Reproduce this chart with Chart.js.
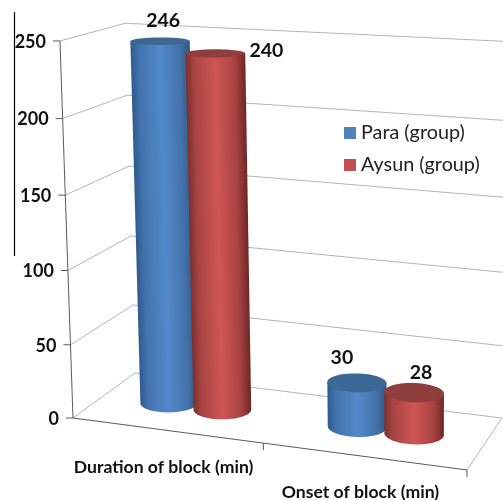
<!DOCTYPE html>
<html>
<head>
  <title>Block duration and onset</title>
  <script src="https://cdn.jsdelivr.net/npm/chart.js"></script>
  <style>
    body { margin: 0; background: #fff; }
    canvas { display: block; }
  </style>
</head>
<body>
  <canvas id="blockChart" width="503" height="500"></canvas>

  <script>
    const categories = ['Duration of block (min)', 'Onset of block (min)'];
    const paraValues = [246, 30];
    const aysunValues = [240, 28];
    const seriesNames = ['Para (group)', 'Aysun (group)'];

    // label nudges from the top of each cylinder, picture is not regular here
    const paraLabelNudge = [[3, -20], [-15, -25]];
    const aysunLabelNudge = [[51, -3], [7, -20]];

    const FONT = 'Lato, "Open Sans", sans-serif';

    // the flat chart area gets projected onto the 3D box
    // s = along the categories, d = depth, t = height (all 0..1)
    function project(s, d, t) {
      const X = 73 + 363.4 * s + 72.8 * d - 15.2 * t;
      const Y = 418 + 21.2 * s - 15.2 * d - (378.5 + 5 * s * t * t) * t;
      const w = 1 - 0.0655 * s + 0.0798 * d - 0.036 * t;
      return [X / w, Y / w];
    }

    function line(ctx, a, b, color, width) {
      ctx.strokeStyle = color;
      ctx.lineWidth = width;
      ctx.beginPath();
      ctx.moveTo(a[0], a[1]);
      ctx.lineTo(b[0], b[1]);
      ctx.stroke();
    }

    function drawBox(chart) {
      const ctx = chart.ctx;
      const y = chart.scales.y;
      const area = chart.chartArea;
      const wall = '#b4b4b4';
      const axis = '#5a5a5a';

      y.ticks.forEach(tick => {
        const t = (area.bottom - y.getPixelForValue(tick.value)) / area.height;
        line(ctx, project(0, 0, t), project(0, 1, t), wall, 1);
        line(ctx, project(0, 1, t), project(1, 1, t), wall, 1);
      });
      line(ctx, project(1, 1, 0), project(1, 0, 0), wall, 1);

      line(ctx, project(0, 0, 0), project(0, 0, 1), axis, 1);
      line(ctx, project(0, 0, 0), project(1, 0, 0), axis, 1);

      ctx.fillStyle = '#111';
      ctx.font = 'bold 18px ' + FONT;
      ctx.textAlign = 'right';
      ctx.textBaseline = 'middle';
      y.ticks.forEach(tick => {
        const t = (area.bottom - y.getPixelForValue(tick.value)) / area.height;
        const p = project(0, 0, t);
        line(ctx, [p[0] - 7, p[1]], p, axis, 1);
        ctx.fillText(tick.label, p[0] - 14, p[1] + 1);
      });

      // tick marks under the front edge
      [0.5, 1].forEach(s => {
        const p = project(s, 0, 0);
        line(ctx, p, [p[0], p[1] + 7], axis, 1);
      });

      const x = chart.scales.x;
      ctx.font = 'bold 17.6px ' + FONT;
      ctx.textAlign = 'center';
      categories.forEach((name, i) => {
        const s = (x.getPixelForValue(i) - area.left) / area.width;
        const p = project(s, 0, 0);
        ctx.fillText(name, p[0] - 3, p[1] + 36.5);
      });
    }

    function drawCylinder(chart, bar, colors) {
      const ctx = chart.ctx;
      const area = chart.chartArea;
      const s = (bar.x - area.left) / area.width;
      const rs = bar.width / 2 / area.width;
      const rd = rs * 2.65;
      const t = (bar.base - bar.y) / area.height;
      const rim = (a, h) => project(s + rs * Math.cos(a), 0.5 - rd * Math.sin(a), h);

      // find where the outline leaves each ellipse
      const extreme = h => {
        let left = 0, right = 0;
        for (let a = -1.2; a < Math.PI + 1.2; a += 0.01) {
          if (rim(a, h)[0] > rim(right, h)[0]) right = a;
          if (rim(a, h)[0] < rim(left, h)[0]) left = a;
        }
        return { left: left, right: right };
      };
      const eb = extreme(0);
      const et = extreme(t);
      const tl = rim(et.left, t), tr = rim(et.right, t);
      const bl = rim(eb.left, 0), br = rim(eb.right, 0);

      ctx.save();
      ctx.beginPath();
      for (let i = 0; i <= 50; i++) {
        const q = rim(eb.right + (eb.left - eb.right) * i / 50, 0);
        if (i === 0) ctx.moveTo(q[0], q[1]);
        else ctx.lineTo(q[0], q[1]);
      }
      ctx.lineTo(tl[0], tl[1]);
      ctx.lineTo(tr[0], tr[1]);
      ctx.closePath();
      ctx.clip();

      // one gradient per pixel row, the outline narrows towards the floor
      const yFrom = Math.floor(Math.min(tl[1], tr[1])) - 1;
      const yTo = Math.ceil(rim(Math.PI / 2, 0)[1]) + 2;
      for (let row = yFrom; row < yTo; row++) {
        const f = (row + 0.5 - tl[1]) / (bl[1] - tl[1]);
        const xl = tl[0] + (bl[0] - tl[0]) * f;
        const xr = tr[0] + (br[0] - tr[0]) * f;
        const g = ctx.createLinearGradient(xl, 0, xr, 0);
        colors.wall.forEach((c, i) => g.addColorStop(colors.stops[i], c));
        ctx.fillStyle = g;
        ctx.fillRect(xl - 3, row, xr - xl + 6, 1);
      }
      ctx.restore();

      ctx.fillStyle = colors.top;
      ctx.beginPath();
      for (let i = 0; i <= 60; i++) {
        const q = rim(Math.PI * 2 * i / 60, t);
        if (i === 0) ctx.moveTo(q[0], q[1]);
        else ctx.lineTo(q[0], q[1]);
      }
      ctx.closePath();
      ctx.fill();
      return project(s, 0.5, t);
    }

    const box3d = {
      id: 'box3d',
      // the flat bars stay in the chart for their geometry, the cylinders replace them
      beforeDatasetsDraw(chart) {
        drawBox(chart);
      },
      beforeDatasetDraw() {
        return false;
      },
      afterDatasetsDraw(chart) {
        const ctx = chart.ctx;
        const stops = [0, 0.14, 0.5, 0.82, 1];
        const styles = [
          { stops: stops, wall: ['#2f5a8e', '#4273ad', '#5289cb', '#4473ab', '#2f5684'], top: '#3c6896' },
          { stops: stops, wall: ['#7c2f2f', '#a84442', '#cf5654', '#a84341', '#6f2626'], top: '#8e3e3c' }
        ];
        const nudges = [paraLabelNudge, aysunLabelNudge];
        const tops = [];
        categories.forEach((name, i) => {
          chart.data.datasets.forEach((ds, j) => {
            const bar = chart.getDatasetMeta(j).data[i];
            const p = drawCylinder(chart, bar, styles[j]);
            tops.push({ p: p, nudge: nudges[j][i], text: String(ds.data[i]) });
          });
        });

        ctx.fillStyle = '#111';
        ctx.font = 'bold 19.5px ' + FONT;
        ctx.textAlign = 'center';
        ctx.textBaseline = 'middle';
        tops.forEach(top => {
          ctx.fillText(top.text, top.p[0] + top.nudge[0], top.p[1] + top.nudge[1]);
        });

        // legend
        ctx.font = '19.8px ' + FONT;
        ctx.textAlign = 'left';
        chart.data.datasets.forEach((ds, j) => {
          const ly = 133 + j * 32;
          ctx.fillStyle = ds.backgroundColor;
          ctx.fillRect(344, ly - 6, 12, 12);
          ctx.fillStyle = '#222';
          ctx.fillText(ds.label, 361, ly);
        });

        // stray rule at the left edge of the picture
        line(ctx, [14.5, 12], [14.5, 256], '#000', 1.2);
      }
    };

    new Chart(document.getElementById('blockChart').getContext('2d'), {
      type: 'bar',
      data: {
        labels: categories,
        datasets: [
          { label: seriesNames[0], data: paraValues, backgroundColor: '#4f81bd' },
          { label: seriesNames[1], data: aysunValues, backgroundColor: '#c0504d' }
        ]
      },
      options: {
        responsive: false,
        animation: false,
        layout: { padding: { left: 73, right: 36, top: 41, bottom: 82 } },
        categoryPercentage: 0.58,
        barPercentage: 1,
        plugins: { legend: { display: false }, tooltip: { enabled: false } },
        scales: {
          x: { display: false },
          y: { display: false, min: 0, max: 250, ticks: { stepSize: 50 } }
        }
      },
      plugins: [box3d]
    });
  </script>
</body>
</html>
